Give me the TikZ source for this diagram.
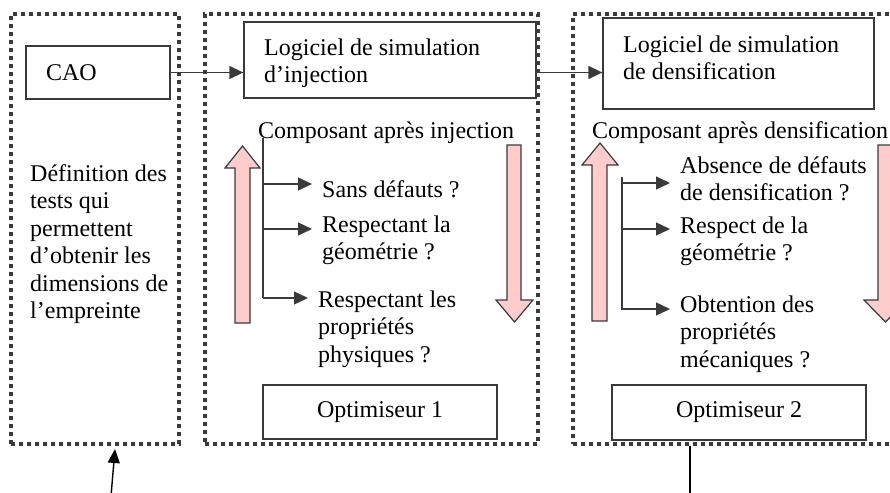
\documentclass[tikz,border=0pt]{standalone}
\usepackage{fontspec}
\setmainfont{Liberation Serif}
\usetikzlibrary{arrows.meta, positioning, calc}
\definecolor{rosefleche}{HTML}{FFCCCC}
\definecolor{trait}{HTML}{3A3A3A}

\begin{document}
\begin{tikzpicture}[x=1pt, y=-1pt,
    font=\fontsize{24}{27.5}\selectfont,
    zone/.style={draw=trait, line width=4pt, dash pattern=on 4pt off 4pt, minimum height=430pt, inner sep=0pt},
    boite/.style={draw=trait, line width=1.3pt, inner xsep=20pt, inner ysep=0pt, align=left},
    optim/.style={draw=trait, line width=1.3pt, inner sep=0pt, align=center},
    lbl/.style={anchor=base west, inner sep=0pt, align=left},
    fleche/.style={draw=trait, line width=1.3pt, -{Triangle[length=14pt, width=13pt]}},
    tronc/.style={draw=trait, line width=1.3pt},
    grosse/.style={fill=rosefleche, draw=trait, line width=1.2pt, line join=miter},
    lien/.style={draw=black, line width=1.4pt}]
  \useasboundingbox (0,0) rectangle (890,492);

  % les trois zones
  \node[zone, minimum width=168pt] (specZone) at (95,229) {};
  \node[zone, minimum width=333pt] (injZone) at (371.5,229) {};
  \node[zone, minimum width=327pt] (densZone) at (736.5,229) {};

  \node[boite, text width=104pt, minimum height=53pt] (cao) at (98,72.5) {CAO};
  \node[boite, text width=252pt, minimum height=76pt] (inj) at (390,60) {};
  \node[boite, text width=231pt, minimum height=91pt] (dens) at (738.5,63.5) {};
  \node[lbl] (injTxt) at (264,83) {Logiciel de simulation\\d’injection};
  \node[lbl] (densTxt) at (623,80) {Logiciel de simulation\\de densification};
  \draw[fleche] (cao.east) -- (cao.east -| inj.west);
  \draw[fleche] (inj.east |- cao.east) -- (dens.west |- cao.east);

  % le base d'un texte sur plusieurs lignes est sa derniere ligne
  \node[lbl] (specTxt) at (30,318.5) {Définition des\\tests qui\\permettent\\d’obtenir les\\dimensions de\\l’empreinte};

  % injection
  \node[lbl] (compInj) at (258,138) {Composant après injection};
  \coordinate (troncInjHaut) at (263,138);
  \coordinate (troncInjBas) at (263,298);
  \draw[tronc] (troncInjHaut) -- (troncInjBas);
  \node[lbl] (qInjA) at (322,197) {Sans défauts ?};
  \node[lbl] (qInjB) at (322,259.5) {Respectant la\\géométrie ?};
  \node[lbl] (qInjC) at (318,362) {Respectant les\\propriétés\\physiques ?};
  \foreach \q/\y in {qInjA/184, qInjB/229, qInjC/298}
    \draw[fleche] (troncInjHaut |- 0,\y) -- ($(\q.west |- 0,\y)+(-10,0)$);
  \draw[grosse] (235,323) -- (235,168) -- (225,168) -- (242.5,146) -- (260,168) -- (250,168) -- (250,323) -- cycle;
  \draw[grosse] (507,145) -- (507,300) -- (496,300) -- (514.5,322) -- (533,300) -- (521,300) -- (521,145) -- cycle;
  \node[optim, minimum width=234pt, minimum height=54pt] (opt1) at (380,412) {Optimiseur 1};

  % densification
  \node[lbl] (compDens) at (592,138) {Composant après densification};
  \coordinate (troncDensHaut) at (622,177);
  \coordinate (troncDensBas) at (622,310);
  \draw[tronc] (troncDensHaut) -- (troncDensBas);
  \node[lbl] (qDensA) at (680,200.5) {Absence de défauts\\de densification ?};
  \node[lbl] (qDensB) at (680,260.5) {Respect de la\\géométrie ?};
  \node[lbl] (qDensC) at (680,367) {Obtention des\\propriétés\\mécaniques ?};
  \foreach \q/\y in {qDensA/183, qDensB/229, qDensC/309}
    \draw[fleche] (troncDensHaut |- 0,\y) -- ($(\q.west |- 0,\y)+(-10,0)$);
  \draw[grosse] (592,321) -- (592,165) -- (582,165) -- (600,143) -- (618,165) -- (607,165) -- (607,321) -- cycle;
  \draw[grosse] (878,145) -- (878,300) -- (864,300) -- (885.5,322) -- (907,300) -- (893,300) -- (893,145) -- cycle;
  \node[optim, minimum width=254pt, minimum height=55pt] (opt2) at (739,412.5) {Optimiseur 2};

  \coordinate (piedSpec) at (111,496);
  \draw[lien, -{Triangle[length=14pt, width=12pt]}] (piedSpec) -- ($(specZone.south)+(20,3)$);
  \coordinate (piedDens) at (690,496);
  \draw[lien] (piedDens) -- (piedDens |- densZone.south);
\end{tikzpicture}
\end{document}
